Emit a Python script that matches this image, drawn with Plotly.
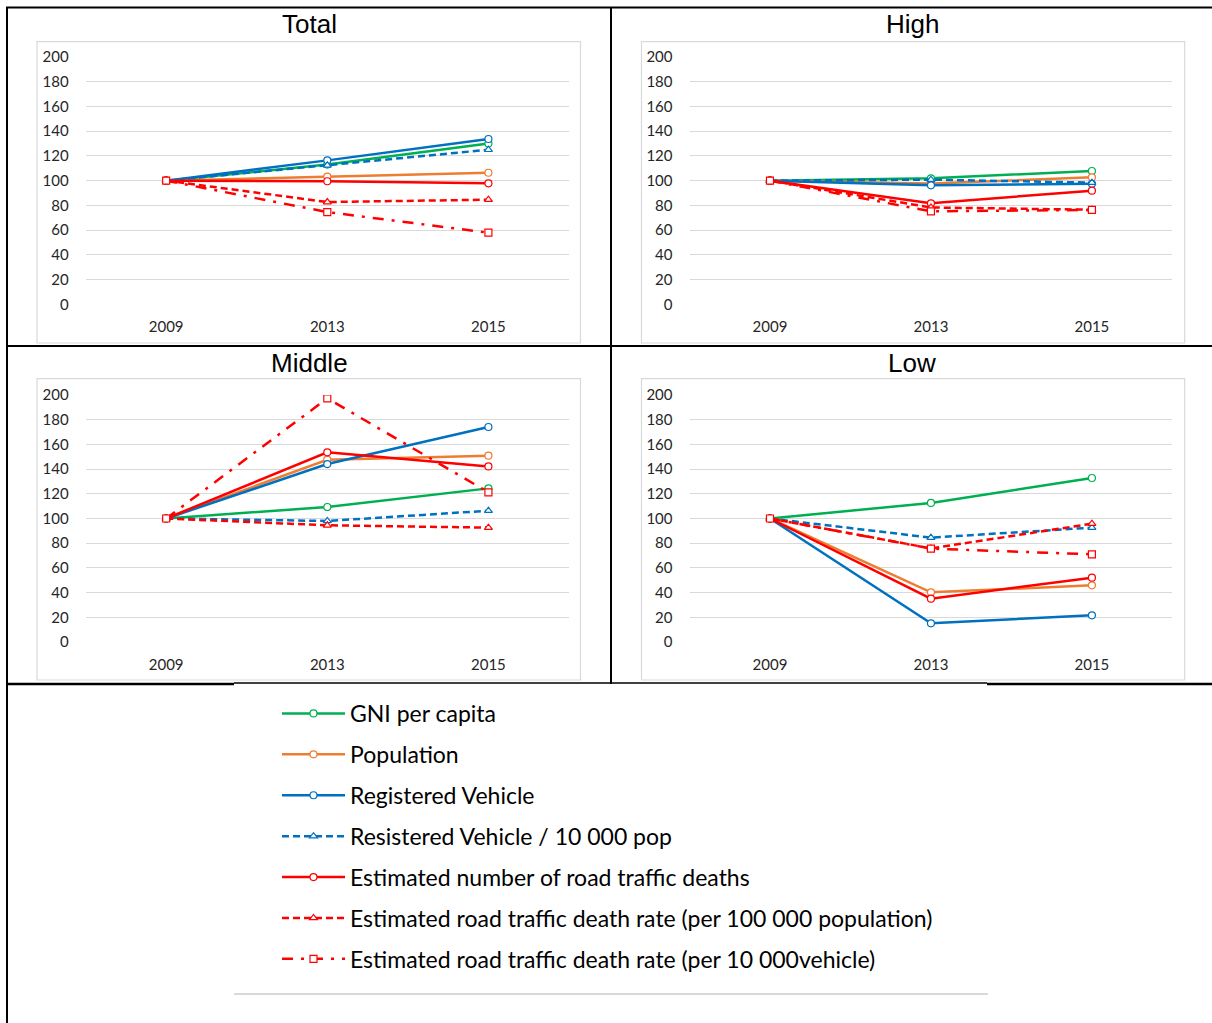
import plotly.graph_objects as go

# ---------------- data ----------------
years = ["2009", "2013", "2015"]
series_names = [
    "GNI per capita",
    "Population",
    "Registered Vehicle",
    "Resistered Vehicle / 10 000 pop",
    "Estimated number of road traffic deaths",
    "Estimated road traffic death rate (per 100 000 population)",
    "Estimated road traffic death rate (per 10 000vehicle)",
]
panel_titles = ["Total", "High", "Middle", "Low"]

total_gni = [100, 113.0, 130.0]
total_pop = [100, 103.3, 106.4]
total_rv = [100, 116.4, 133.7]
total_rvpop = [100, 112.4, 125.0]
total_deaths = [100, 99.5, 97.8]
total_drpop = [100, 82.7, 84.6]
total_drveh = [100, 74.6, 57.9]

high_gni = [100, 101.9, 107.8]
high_pop = [100, 97.6, 102.7]
high_rv = [100, 96.2, 97.5]
high_rvpop = [100, 100.8, 98.4]
high_deaths = [100, 81.7, 91.9]
high_drpop = [100, 78.3, 76.5]
high_drveh = [100, 75.2, 76.3]

middle_gni = [100, 109.3, 124.4]
middle_pop = [100, 147.6, 150.9]
middle_rv = [100, 144.1, 174.1]
middle_rvpop = [100, 98.0, 106.3]
middle_deaths = [100, 153.6, 142.2]
middle_drpop = [100, 94.5, 92.6]
middle_drveh = [100, 197.3, 121.2]

low_gni = [100, 112.6, 132.8]
low_pop = [100, 40.2, 45.9]
low_rv = [100, 15.1, 21.6]
low_rvpop = [100, 84.5, 92.6]
low_deaths = [100, 35.1, 52.1]
low_drpop = [100, 75.8, 95.8]
low_drveh = [100, 75.6, 71.0]

panel_data = [
    [total_gni, total_pop, total_rv, total_rvpop, total_deaths, total_drpop, total_drveh],
    [high_gni, high_pop, high_rv, high_rvpop, high_deaths, high_drpop, high_drveh],
    [middle_gni, middle_pop, middle_rv, middle_rvpop, middle_deaths, middle_drpop, middle_drveh],
    [low_gni, low_pop, low_rv, low_rvpop, low_deaths, low_drpop, low_drveh],
]

# ---------------- styles ----------------
GREEN, ORANGE, BLUE, RED = "#00B050", "#ED7D31", "#0070C0", "#FF0000"
styles = [
    dict(color=GREEN, dash="solid", symbol="circle", size=7),
    dict(color=ORANGE, dash="solid", symbol="circle", size=7),
    dict(color=BLUE, dash="solid", symbol="circle", size=7),
    dict(color=BLUE, dash="7px,4px", symbol="triangle-up", size=7),
    dict(color=RED, dash="solid", symbol="circle", size=7),
    dict(color=RED, dash="7px,4px", symbol="triangle-up", size=7),
    dict(color=RED, dash="11px,8px,3px,8px", symbol="square", size=7),
]

W, H = 1212, 1023
# effective vertical mapping observed in the rendering
Y_OFF, H_EFF = 9.0, 1005.0


def fx(px):
    return px / W


def fy(py):
    return 1 - (py - Y_OFF) / H_EFF


# plot-area pixel boxes (left, right, top(=200), bottom(=0))
plot_boxes = [
    (85.6, 569.0, 56.0, 303.3),
    (689.5, 1172.4, 56.0, 303.3),
    (85.6, 569.0, 394.0, 641.0),
    (689.5, 1172.4, 394.0, 641.0),
]
# chart-area (light grey frame) boxes
chart_boxes = [
    (37, 580.5, 40.7, 342),
    (641.5, 1184.7, 40.7, 342),
    (37, 580.5, 377.7, 679),
    (641.5, 1184.7, 377.7, 679),
]
title_pos = [(309, 23.5), (912, 23.5), (309, 361.5), (912, 361.5)]

fig = go.Figure()
layout = dict(
    width=W, height=H,
    margin=dict(l=0, r=0, t=0, b=0),
    paper_bgcolor="white", plot_bgcolor="white",
    showlegend=True,
    legend=dict(
        x=fx(277), y=fy(691), xanchor="left", yanchor="top",
        font=dict(family="Lato", size=23, color="#000000"),
        tracegroupgap=8, itemwidth=63,
        bgcolor="rgba(0,0,0,0)", traceorder="grouped",
    ),
)

shapes = []
annotations = []
tick_font = dict(family="Lato", size=15, color="#262626")

for p in range(4):
    sfx = "" if p == 0 else str(p + 1)
    l, r, t, b = plot_boxes[p]
    layout["xaxis" + sfx] = dict(
        domain=[fx(l), fx(r)], anchor="y" + sfx, type="category",
        range=[-0.5, 2.5], showgrid=False, zeroline=False, showline=False,
        ticks="outside", ticklen=9, tickcolor="rgba(0,0,0,0)",
        tickfont=tick_font, fixedrange=True,
    )
    layout["yaxis" + sfx] = dict(
        domain=[fy(b), fy(t)], anchor="x" + sfx, range=[0, 200], dtick=20,
        showgrid=True, gridcolor="#D9D9D9", gridwidth=1, zeroline=False,
        showline=False, ticks="outside", ticklen=13,
        tickcolor="rgba(0,0,0,0)", tickfont=tick_font, fixedrange=True,
    )
    for s, vals in enumerate(panel_data[p]):
        st = styles[s]
        fig.add_trace(go.Scatter(
            x=years, y=vals, mode="lines+markers", name=series_names[s],
            legendgroup=series_names[s], showlegend=(p == 0),
            xaxis="x" + sfx, yaxis="y" + sfx,
            line=dict(color=st["color"], width=2.5, dash=st["dash"]),
            marker=dict(symbol=st["symbol"], size=st["size"], color="white",
                        line=dict(color=st["color"], width=1.2)),
            hoverinfo="skip",
        ))
    cl, cr, ct, cb = chart_boxes[p]
    shapes.append(dict(type="rect", xref="paper", yref="paper",
                       x0=fx(cl), x1=fx(cr), y0=fy(cb), y1=fy(ct),
                       line=dict(color="#D9D9D9", width=1.2), layer="below"))
    tx, ty = title_pos[p]
    annotations.append(dict(text=panel_titles[p], x=fx(tx), y=fy(ty),
                            xref="paper", yref="paper", showarrow=False,
                            xanchor="center", yanchor="middle",
                            font=dict(family="Liberation Sans", size=26, color="#000000")))


def hline(x0, x1, y, w=2, color="#000000"):
    shapes.append(dict(type="line", xref="paper", yref="paper",
                       x0=fx(x0), x1=fx(x1), y0=fy(y), y1=fy(y),
                       line=dict(color=color, width=w)))


def vline(x, y0, y1, w=2, color="#000000"):
    shapes.append(dict(type="line", xref="paper", yref="paper",
                       x0=fx(x), x1=fx(x), y0=fy(y0), y1=fy(y1),
                       line=dict(color=color, width=w)))


hline(6, 1212, 6.5)
vline(7, 6, 1023)
vline(611, 6, 683)
hline(6, 1212, 345)
hline(6, 234, 683, 2.5)
hline(234, 987, 682, 1.5)
hline(987, 1212, 683, 2.5)
hline(234, 988, 993, 2, "#D9D9D9")

layout["shapes"] = shapes
layout["annotations"] = annotations
fig.update_layout(**layout)
fig.write_html("out.html")
